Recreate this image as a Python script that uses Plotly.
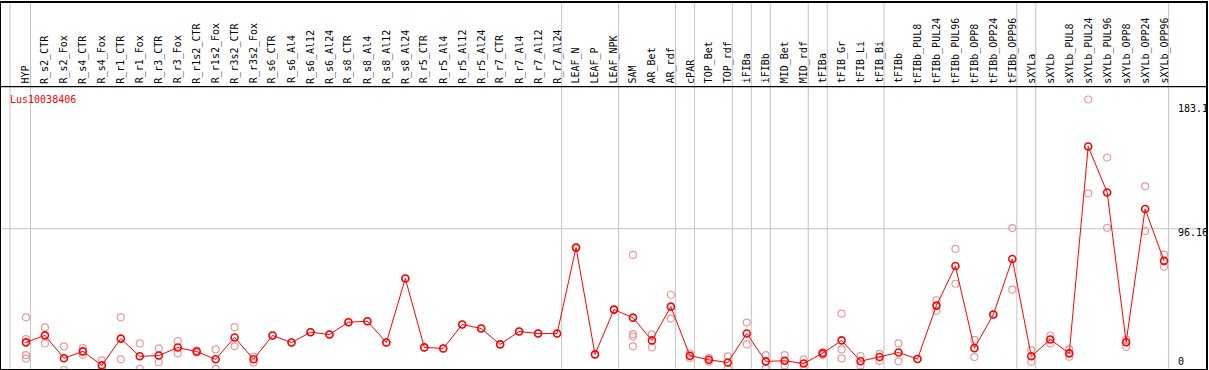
import plotly.graph_objects as go

categories = ["HYP", "R_s2_CTR", "R_s2_Fox", "R_s4_CTR", "R_s4_Fox", "R_r1_CTR", "R_r1_Fox",
              "R_r3_CTR", "R_r3_Fox", "R_r1s2_CTR", "R_r1s2_Fox", "R_r3s2_CTR", "R_r3s2_Fox",
              "R_s6_CTR", "R_s6_Al4", "R_s6_Al12", "R_s6_Al24", "R_s8_CTR", "R_s8_Al4",
              "R_s8_Al12", "R_s8_Al24", "R_r5_CTR", "R_r5_Al4", "R_r5_Al12", "R_r5_Al24",
              "R_r7_CTR", "R_r7_Al4", "R_r7_Al12", "R_r7_Al24", "LEAF_N", "LEAF_P", "LEAF_NPK",
              "SAM", "AR_Bet", "AR_rdf", "cPAR", "TOP_Bet", "TOP_rdf", "iFIBa", "iFIBb",
              "MID_Bet", "MID_rdf", "tFIBa", "tFIB_Gr", "tFIB_Li", "tFIB_Bi", "tFIBb",
              "tFIBb_PUL8", "tFIBb_PUL24", "tFIBb_PUL96", "tFIBb_OPP8", "tFIBb_OPP24",
              "tFIBb_OPP96", "sXYLa", "sXYLb", "sXYLb_PUL8", "sXYLb_PUL24", "sXYLb_PUL96",
              "sXYLb_OPP8", "sXYLb_OPP24", "sXYLb_OPP96"]

means = [19.8, 24.5, 9.1, 13.7, 4.3, 22.3, 10.4, 10.9, 16.3, 13.6, 8.4, 23.1, 8.4,
         24.4, 19.7, 26.6, 25.1, 33.3, 34.0, 19.7, 62.7, 16.4, 15.7, 31.8, 29.1,
         18.4, 27.1, 25.7, 25.7, 83.5, 11.7, 41.8, 36.4, 21.1, 43.8, 10.8, 8.1, 6.2,
         25.7, 7.0, 7.4, 5.6, 12.4, 21.1, 7.1, 9.9, 13.0, 8.6, 44.5, 71.1, 15.9, 38.5,
         75.8, 10.4, 21.7, 12.4, 151.5, 120.6, 19.9, 109.5, 74.6]

replicates = [[36.6, 21.9, 11.2, 8.9], [29.8, 19.1], [17.1, 1.2], [15.9, 11.4], [7.7, 0.9],
              [36.6, 8.4], [19.1, 1.9], [15.7, 6.4], [20.6, 12.4], [14.2, 12.9], [15.0, 1.9],
              [30.0, 17.1], [10.1, 6.2], [24.4], [19.7], [26.6], [25.1], [33.3], [34.0],
              [19.7], [62.7], [16.4], [15.7], [31.8], [29.1], [18.4], [27.1], [25.7], [25.7],
              [83.5], [11.7], [41.8], [78.6, 25.3, 23.7, 17.1], [25.1, 16.4], [51.8, 35.8],
              [12.4, 9.4], [9.4, 6.8], [10.4, 1.9], [33.1, 18.4], [11.2, 2.3], [11.2, 4.3],
              [8.4, 2.3], [13.2, 11.2], [39.1, 15.0, 9.0], [10.6, 4.3], [12.1, 7.2],
              [19.1, 7.0], [8.6], [48.0, 41.1], [82.6, 59.2], [21.5, 9.9], [38.5],
              [96.6, 55.2], [14.6, 6.8], [24.4, 19.1], [15.0, 10.1], [183.1, 120.0],
              [144.1, 96.8], [21.7, 16.8], [124.7, 94.6], [78.8, 70.6]]

gene_name = "Lus10038406"
ytick_labels = ["183.1", "96.16", "0"]
ytick_label_pos = [177.1, 93.5, 6.6]
grid_value = 96.16
group_breaks = [-0.84, 0, 28, 31, 34, 35, 37, 38, 39, 41, 42, 45, 52, 53, 60]

RED = "#ff0000"
PINK = "#eb9a9a"
GRID = "#c4c4c4"
FONT = "DejaVu Sans Mono"

idx = list(range(len(categories)))
rep_x, rep_y = [], []
for i, reps in enumerate(replicates):
    for v in reps:
        rep_x.append(i)
        rep_y.append(v)

fig = go.Figure()
fig.add_trace(go.Scatter(x=rep_x, y=rep_y, mode="markers",
                         marker=dict(symbol="circle-open", size=7, color=PINK,
                                     line=dict(width=1.2, color=PINK)),
                         hoverinfo="skip", showlegend=False))
fig.add_trace(go.Scatter(x=idx, y=means, mode="lines+markers",
                         line=dict(color=RED, width=1),
                         marker=dict(symbol="circle-open", size=7, color=RED,
                                     line=dict(width=1.6, color=RED)),
                         showlegend=False))

shapes = []
for b in group_breaks:
    xb = b if b < 0 else b + 0.24
    shapes.append(dict(type="line", xref="x", yref="paper", x0=xb, x1=xb, y0=0, y1=1,
                       line=dict(color=GRID, width=1), layer="below"))
shapes.append(dict(type="line", xref="paper", yref="y", x0=0, x1=1, y0=grid_value,
                   y1=grid_value, line=dict(color=GRID, width=1), layer="below"))
header_y = (369 - 85) / 368
shapes.append(dict(type="line", xref="paper", yref="paper", x0=0, x1=1, y0=header_y,
                   y1=header_y, line=dict(color="black", width=1.2)))

annotations = []
label_y = (369 - 83) / 368
for i, c in enumerate(categories):
    annotations.append(dict(x=i, y=label_y, xref="x", yref="paper", text=c,
                            textangle=-90, showarrow=False, xanchor="center",
                            yanchor="bottom", borderpad=0,
                            font=dict(family=FONT, size=10, color="black")))
for t, yp in zip(ytick_labels, ytick_label_pos):
    annotations.append(dict(x=60.68, y=yp, xref="x", yref="y", text=t, showarrow=False,
                            xanchor="left", yanchor="middle", borderpad=0,
                            font=dict(family=FONT, size=10, color="black")))
annotations.append(dict(x=-0.9, y=183.1, xref="x", yref="y", text=gene_name,
                        showarrow=False, xanchor="left", yanchor="middle", borderpad=0,
                        font=dict(family=FONT, size=10, color=RED)))

fig.update_layout(
    width=1209, height=370,
    margin=dict(l=1, r=1, t=1, b=1),
    plot_bgcolor="white", paper_bgcolor="white",
    shapes=shapes, annotations=annotations,
    xaxis=dict(range=[-25 / 19, -25 / 19 + 1207 / 19], showgrid=False, zeroline=False,
               showticklabels=False, ticks="", showline=True, mirror=True,
               linecolor="black", linewidth=1.5),
    yaxis=dict(range=[1.87, 247.98], showgrid=False, zeroline=False,
               showticklabels=False, ticks="", showline=True, mirror=True,
               linecolor="black", linewidth=1.5),
)

fig.write_html("out.html", config={"displayModeBar": False},
               post_script="document.body.style.margin='0px';document.body.style.overflow='hidden';")
